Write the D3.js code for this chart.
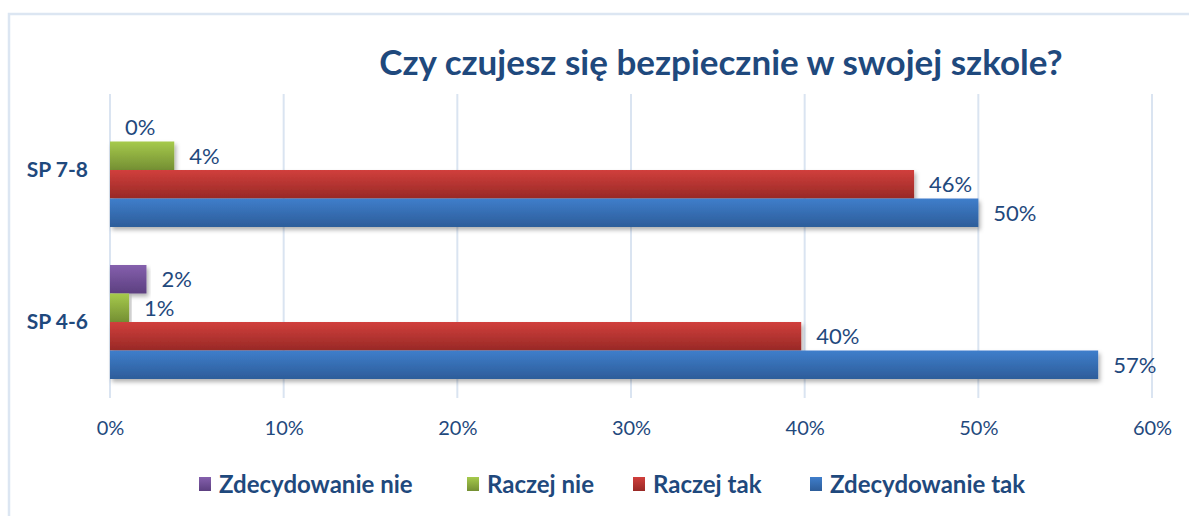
<!DOCTYPE html>
<html>
<head>
<meta charset="utf-8">
<script src="https://cdn.jsdelivr.net/npm/d3@7"></script>
<style>
  html, body { margin: 0; padding: 0; background: #ffffff; }
  svg { display: block; }
  text { font-family: Lato, "Open Sans", sans-serif; }
</style>
</head>
<body>
<svg id="chart" width="1189" height="516"></svg>
<script>
// Survey answers (% of pupils) per school level
const categories = ["SP 7-8", "SP 4-6"];
const seriesNames = ["Zdecydowanie nie", "Raczej nie", "Raczej tak", "Zdecydowanie tak"];
const zdecydowanieNie = [0, 2.1];
const raczejNie = [3.7, 1.1];
const raczejTak = [46.3, 39.8];
const zdecydowanieTak = [50.0, 56.9];
const tickValues = [0, 10, 20, 30, 40, 50, 60];
const titleText = "Czy czujesz się bezpiecznie w swojej szkole?";

const seriesValues = [zdecydowanieNie, raczejNie, raczejTak, zdecydowanieTak];
const seriesColors = [
  { top: "#8560ad", bottom: "#5c3f80" },
  { top: "#a6ca4c", bottom: "#748f33" },
  { top: "#d13f3c", bottom: "#982926" },
  { top: "#3f7ecb", bottom: "#2d5d9a" }
];

const textColor = "#1f497d";
const gridColor = "#dae4f1";

const svg = d3.select("#chart");
const W = 1189, H = 516;
const plot = { left: 110, right: 1152, top: 94, bottom: 398 };

// frame around the chart area
svg.append("rect")
  .attr("x", 9).attr("y", 14)
  .attr("width", W + 20).attr("height", H + 20)
  .attr("fill", "#ffffff")
  .attr("stroke", "#dce6f2").attr("stroke-width", 2.5);

const defs = svg.append("defs");
seriesColors.forEach((c, i) => {
  const g = defs.append("linearGradient")
    .attr("id", "grad" + i)
    .attr("x1", 0).attr("y1", 0).attr("x2", 0).attr("y2", 1);
  g.append("stop").attr("offset", "0%").attr("stop-color", c.top);
  g.append("stop").attr("offset", "100%").attr("stop-color", c.bottom);
});
const shadow = defs.append("filter").attr("id", "barShadow")
  .attr("x", "-5%").attr("y", "-20%").attr("width", "115%").attr("height", "160%");
shadow.append("feDropShadow")
  .attr("dx", 2).attr("dy", 3).attr("stdDeviation", 2.2)
  .attr("flood-color", "#000").attr("flood-opacity", 0.3);

const x = d3.scaleLinear().domain([0, 60]).range([plot.left, plot.right]);
const y = d3.scaleBand().domain(categories).range([plot.top, plot.bottom])
  .paddingInner(0.25).paddingOuter(0.125);
const ySub = d3.scaleBand().domain(seriesNames).range([0, y.bandwidth()]);

// vertical gridlines
svg.append("g").selectAll("line")
  .data(tickValues).join("line")
  .attr("x1", d => x(d)).attr("x2", d => x(d))
  .attr("y1", plot.top).attr("y2", plot.bottom)
  .attr("stroke", gridColor).attr("stroke-width", 2);

// x axis tick labels
const xAxis = d3.axisBottom(x).tickValues(tickValues).tickSize(0).tickPadding(0)
  .tickFormat(d => d + "%");
const gx = svg.append("g").attr("transform", `translate(0,${plot.bottom})`).call(xAxis);
gx.select(".domain").remove();
gx.selectAll("text")
  .attr("y", 30).attr("dy", "0.35em")
  .attr("fill", textColor)
  .style("font-size", "20px")
  .style("font-family", "Lato, sans-serif");

// category labels
const yAxis = d3.axisLeft(y).tickSize(0).tickPadding(22);
const gy = svg.append("g").attr("transform", `translate(${plot.left},0)`).call(yAxis);
gy.select(".domain").remove();
gy.selectAll("text")
  .attr("fill", textColor)
  .style("font-size", "21px")
  .style("font-weight", "bold")
  .style("font-family", "Lato, sans-serif");

// bars
const rows = [];
categories.forEach((cat, ci) => {
  seriesNames.forEach((s, si) => {
    rows.push({ cat, s, si, v: seriesValues[si][ci] });
  });
});

const barsG = svg.append("g");
barsG.selectAll("rect")
  .data(rows.filter(d => d.v > 0)).join("rect")
  .attr("x", x(0))
  .attr("y", d => y(d.cat) + ySub(d.s))
  .attr("width", d => x(d.v) - x(0))
  .attr("height", ySub.bandwidth())
  .attr("fill", d => `url(#grad${d.si})`)
  .attr("filter", "url(#barShadow)");

// value labels
svg.append("g").selectAll("text")
  .data(rows).join("text")
  .attr("x", d => x(d.v) + 15)
  .attr("y", d => y(d.cat) + ySub(d.s) + ySub.bandwidth() / 2)
  .attr("dy", "0.36em")
  .attr("fill", textColor)
  .style("font-size", "22px")
  .text(d => Math.round(d.v) + "%");

// title
svg.append("text")
  .attr("x", 721).attr("y", 75)
  .attr("text-anchor", "middle")
  .attr("fill", textColor)
  .style("font-size", "35px")
  .style("font-weight", "bold")
  .text(titleText);

// legend
const legendX = [199, 467, 633, 810];
const legend = svg.append("g").selectAll("g")
  .data(seriesNames).join("g")
  .attr("transform", (d, i) => `translate(${legendX[i]},484)`);
legend.append("rect")
  .attr("x", 0).attr("y", -7)
  .attr("width", 12).attr("height", 14)
  .attr("fill", (d, i) => `url(#grad${i})`);
legend.append("text")
  .attr("x", 20).attr("dy", "0.36em")
  .attr("fill", textColor)
  .style("font-size", "24px")
  .style("font-weight", "bold")
  .text(d => d);
</script>
</body>
</html>
